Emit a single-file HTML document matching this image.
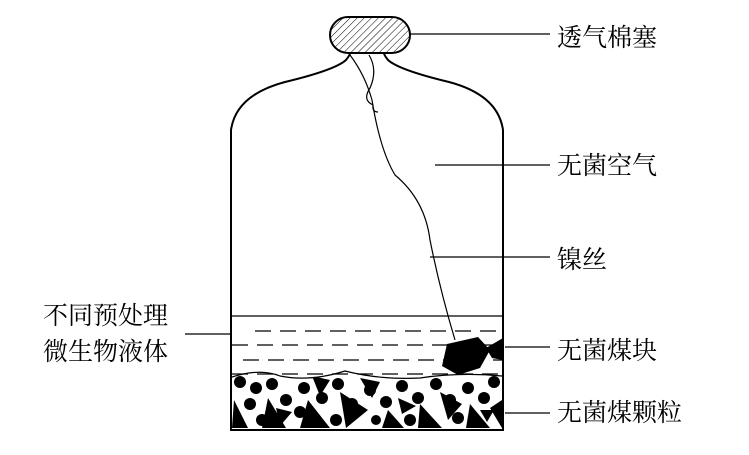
<!DOCTYPE html>
<html><head><meta charset="utf-8"><style>
html,body{margin:0;padding:0;background:#fff;width:749px;height:455px;overflow:hidden}
svg{display:block}
text{font-family:"Liberation Serif","Noto Serif CJK SC",serif;font-size:25px;fill:#000}
</style></head><body>
<svg width="749" height="455" viewBox="0 0 749 455">
<defs>
<pattern id="h" width="5" height="5" patternUnits="userSpaceOnUse" patternTransform="rotate(45)">
<line x1="0" y1="0" x2="0" y2="5" stroke="#000" stroke-width="1"/></pattern>
<clipPath id="c"><path d="M232 377 Q260 368 280 376 Q310 382 345 371 Q380 380 420 378 Q460 372 502 376 L502 429 L232 429 Z"/></clipPath>
</defs>
<path d="M231 430 L231 130 Q236 95 285 82 Q335 70 346 60 Q350 55 350 53" fill="none" stroke="#000" stroke-width="2"/>
<path d="M503 430 L503 130 Q498 95 449 82 Q399 70 388 60 Q384 55 384 53" fill="none" stroke="#000" stroke-width="2"/>
<line x1="230" y1="430" x2="504" y2="430" stroke="#000" stroke-width="2"/>
<rect x="330" y="17" width="80" height="36" rx="18" fill="url(#h)" stroke="#000" stroke-width="2"/>
<path d="M350 55 Q365 75 372 100 Q380 150 395 175 Q425 200 430 240 Q440 290 455 340" fill="none" stroke="#000" stroke-width="1.2"/>
<path d="M369 55 Q378 70 370 88 Q362 100 373 105 Q372 112 378 112" fill="none" stroke="#000" stroke-width="1.2"/>
<line x1="231" y1="316" x2="503" y2="316" stroke="#000" stroke-width="1.3"/>
<g stroke="#000" stroke-width="1.2" stroke-dasharray="16 9">
<line x1="255" y1="331" x2="503" y2="331"/>
<line x1="232" y1="345" x2="503" y2="345"/>
<line x1="243" y1="360" x2="503" y2="360"/>
<line x1="232" y1="374" x2="503" y2="374"/>
</g>
<path d="M447 344 L478 337 L490 350 L480 368 L458 375 L442 366 Z" fill="#000"/>
<path d="M486 348 L503 338 L503 360 L492 358 Z" fill="#000"/>
<path d="M232 377 Q260 368 280 376 Q310 382 345 371 Q380 380 420 378 Q460 372 502 376" fill="none" stroke="#000" stroke-width="1.2"/>
<g clip-path="url(#c)" fill="#000">
<g>
<circle cx="240" cy="382" r="6"/><circle cx="256" cy="388" r="6"/><circle cx="272" cy="384" r="6"/>
<circle cx="250" cy="404" r="6"/><circle cx="286" cy="400" r="6"/><circle cx="304" cy="388" r="6"/>
<circle cx="300" cy="412" r="6"/><circle cx="322" cy="398" r="6"/><circle cx="338" cy="384" r="6"/>
<circle cx="352" cy="404" r="6"/><circle cx="370" cy="390" r="6"/><circle cx="386" cy="402" r="6"/>
<circle cx="402" cy="386" r="6"/><circle cx="418" cy="398" r="6"/><circle cx="436" cy="384" r="6"/>
<circle cx="450" cy="400" r="6"/><circle cx="468" cy="388" r="6"/><circle cx="484" cy="398" r="6"/>
<circle cx="262" cy="420" r="6"/><circle cx="336" cy="420" r="6"/><circle cx="410" cy="420" r="6"/>
<circle cx="458" cy="418" r="6"/><circle cx="494" cy="382" r="6"/><circle cx="376" cy="420" r="5"/>
<polygon points="234,400 248,428 232,428"/><polygon points="268,398 286,428 262,428"/>
<polygon points="308,400 330,428 300,428"/><polygon points="340,392 368,410 346,428"/>
<polygon points="360,378 380,382 372,398"/><polygon points="388,410 404,428 382,428"/>
<polygon points="420,404 442,428 418,428"/><polygon points="440,392 462,404 448,420"/>
<polygon points="470,404 490,428 466,428"/><polygon points="490,408 502,400 502,428"/>
<polygon points="312,376 330,380 320,396"/><polygon points="398,398 416,406 402,414"/>
<polygon points="276,408 292,412 280,426"/><polygon points="480,410 494,410 487,422"/>
</g>
</g>
<g stroke="#000" stroke-width="1.2">
<line x1="410" y1="34" x2="550" y2="34"/>
<line x1="435" y1="165" x2="550" y2="165"/>
<line x1="430" y1="257" x2="550" y2="257"/>
<line x1="505" y1="347" x2="550" y2="347"/>
<line x1="505" y1="413" x2="550" y2="413"/>
<line x1="185" y1="334" x2="230" y2="334"/>
</g>
<text x="557" y="46">透气棉塞</text>
<text x="557" y="174">无菌空气</text>
<text x="557" y="268">镍丝</text>
<text x="557" y="359">无菌煤块</text>
<text x="557" y="421">无菌煤颗粒</text>
<text x="43" y="324">不同预处理</text>
<text x="43" y="360">微生物液体</text>
</svg>
</body></html>
